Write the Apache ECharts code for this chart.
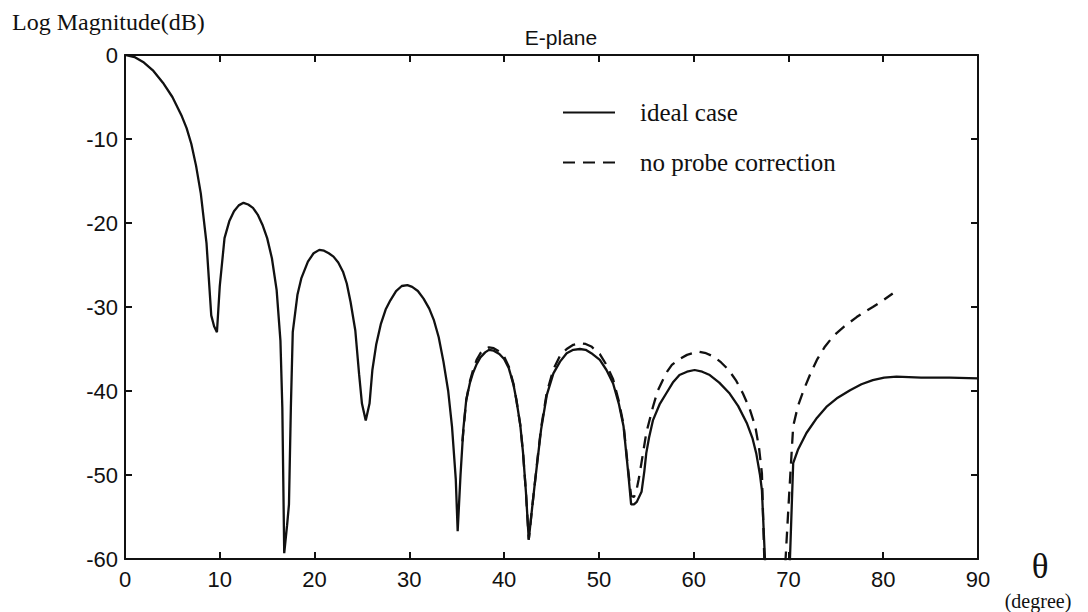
<!DOCTYPE html>
<html>
<head>
<meta charset="utf-8">
<script src="https://cdn.jsdelivr.net/npm/echarts@6/dist/echarts.min.js"></script>
<style>
html,body{margin:0;padding:0;background:#fff;}
#chart{width:1088px;height:612px;}
</style>
</head>
<body>
<div id="chart"></div>
<script>
// theta (degree) / log magnitude (dB)
var thetaIdeal = [0,1,2,3,4,5,6,6.5,7,7.5,8,8.6,9.1,9.4,9.7,10.0,10.5,11,11.5,12,12.5,13,13.5,14,14.5,15,15.5,16,16.4,16.6,16.8,17.1,17.3,17.5,17.7,18.2,18.6,19.3,19.9,20.5,21,21.5,22,22.5,23,23.4,23.8,24.3,24.7,25,25.4,25.8,26.1,26.5,27,27.5,28,28.6,29.2,29.8,30.3,30.9,31.5,32.1,32.6,33.1,33.6,34.1,34.5,34.9,35.1,35.4,35.7,36,36.4,36.7,37.1,37.5,38,38.4,38.9,39.5,40,40.5,41,41.3,41.7,42,42.3,42.6,42.9,43.2,43.6,43.9,44.5,45.2,45.9,46.6,47.3,48,48.6,49.2,50.1,50.8,51.5,52.1,52.6,53.1,53.4,53.7,54,54.5,54.8,55,55.3,55.7,56.4,57.1,57.8,58.5,59.3,60.1,60.9,61.7,62.7,63.8,64.7,65.6,66.2,66.6,67,67.2,67.6,70.1,70.5,71,71.9,73,74,75.2,76.5,77.7,78.9,80.1,81.4,84,87,90];
var magIdeal = [0,-0.25,-0.9,-1.9,-3.3,-5.0,-7.3,-8.7,-10.6,-13.2,-16.5,-22.4,-31.0,-32.3,-33.0,-27.5,-21.8,-19.8,-18.6,-17.9,-17.6,-17.8,-18.2,-19.0,-20.2,-21.8,-24.2,-28.0,-34.0,-42.0,-59.3,-56.0,-53.5,-42.0,-33.0,-28.5,-26.6,-24.6,-23.6,-23.2,-23.3,-23.6,-24.0,-24.7,-25.8,-27.2,-29.4,-32.8,-38.0,-41.5,-43.5,-41.5,-37.5,-34.5,-32.0,-30.3,-29.2,-28.1,-27.5,-27.4,-27.6,-28.1,-29.0,-30.2,-31.6,-33.6,-36.5,-40.0,-44.2,-50.5,-56.7,-50.0,-44.5,-41.1,-39.0,-37.9,-36.8,-36.0,-35.4,-35.1,-35.2,-35.6,-36.2,-37.3,-39.3,-41.1,-44.0,-47.4,-52.0,-57.7,-54.5,-51.4,-47.5,-44.6,-40.5,-37.9,-36.5,-35.5,-35.1,-35.0,-35.1,-35.5,-36.3,-37.5,-39.1,-41.5,-44.2,-49.8,-53.5,-53.5,-53.2,-52.0,-49.5,-47.4,-45.5,-43.5,-41.6,-40.3,-39.0,-38.1,-37.7,-37.5,-37.7,-38.1,-39.0,-40.3,-41.8,-43.8,-45.6,-47.4,-50.0,-51.8,-62,-62,-48.6,-47.0,-45.0,-43.2,-41.9,-40.8,-39.9,-39.2,-38.7,-38.4,-38.3,-38.4,-38.4,-38.5];

// the dashed curve lies on the solid one below ~36 degree
var thetaNoProbe = [35.6,36,36.4,36.7,37.1,37.5,38,38.4,38.9,39.5,40,40.5,41,41.3,41.7,42,42.3,42.6,42.9,43.2,43.6,43.9,44.5,45.2,45.9,46.6,47.3,48,48.6,49.2,50.1,50.8,51.5,52.1,52.6,53.1,53.4,53.7,53.9,54.2,54.5,55,55.7,56.2,56.7,57.2,57.7,58.5,59.3,60.5,61.3,62.1,62.9,63.7,64.5,65.2,65.9,66.5,66.9,67.2,67.5,69.6,70,70.3,70.5,71,71.6,72.3,73,73.8,74.7,75.9,77.2,78,78.9,80,81];
var magNoProbe = [-46.0,-41.1,-38.8,-37.6,-36.3,-35.5,-35.0,-34.8,-34.9,-35.3,-35.9,-37.1,-39.2,-41.1,-44.0,-47.4,-52.0,-57.7,-54.5,-51.4,-47.3,-44.4,-40.2,-37.4,-35.8,-35.0,-34.5,-34.3,-34.4,-34.7,-35.6,-36.9,-38.6,-41.2,-44.0,-49.5,-52.5,-52.6,-52.2,-50.5,-48.5,-45.0,-41.9,-40.0,-38.8,-37.7,-36.9,-36.2,-35.7,-35.3,-35.5,-35.9,-36.6,-37.5,-38.8,-40.3,-42.1,-44.2,-46.8,-49.8,-62,-62,-53.8,-48.0,-44.2,-41.8,-39.9,-38.0,-36.3,-34.8,-33.5,-32.3,-31.2,-30.6,-30.0,-29.2,-28.4];

var xTicks = [0, 90, 10];   // min, max, step
var yTicks = [-60, 0, 10];

function pairs(xs, ys){
	var out = [];
	for(var i=0;i<xs.length;i++){
		out.push([xs[i], ys[i]]);
	}
	return out;
}

var ink = '#111';
var sans = '"Liberation Sans", Arial, sans-serif';
var serif = '"Liberation Serif", "Times New Roman", serif';

var myChart = echarts.init(document.getElementById('chart'), null, {renderer:'svg'});

//框线坐标轴
function frameAxis(pos, showLabel, isX){
	return {
		type:'value',
		position:pos,
		min: isX ? xTicks[0] : yTicks[0],
		max: isX ? xTicks[1] : yTicks[1],
		interval: isX ? xTicks[2] : yTicks[2],
		axisLine:{show:true, onZero:false, lineStyle:{color:ink, width:2}},
		axisTick:{show:true, inside:true, length:7, lineStyle:{color:ink, width:2}},
		splitLine:{show:false},
		axisLabel:{show:showLabel, color:ink, fontFamily:sans, fontSize:22, margin: isX ? 9 : 7}
	};
}

var option = {
	backgroundColor:'#fff',
	animation:false,
	grid:{left:125, right:110, top:55, bottom:53, containLabel:false},
	xAxis:[frameAxis('bottom', true, true), frameAxis('top', false, true)],
	yAxis:[frameAxis('left', true, false), frameAxis('right', false, false)],
	legend:{
		orient:'vertical',
		left:562,
		top:100,
		padding:0,
		itemWidth:52,
		itemHeight:25,
		itemGap:25,
		itemStyle:{opacity:0},
		textStyle:{color:ink, fontFamily:serif, fontSize:25, padding:[0,0,0,20]},
		data:['ideal case','no probe correction']
	},
	graphic:[
		{type:'text', left:12, top:10, style:{text:'Log Magnitude(dB)', fill:ink, font:'24px ' + serif}},
		{type:'text', x:561, y:37, style:{text:'E-plane', fill:ink, font:'21px ' + sans, textAlign:'center', textVerticalAlign:'middle'}},
		{type:'text', x:1040, y:566, style:{text:'θ', fill:ink, font:'35px ' + serif, textAlign:'center', textVerticalAlign:'middle'}},
		{type:'text', x:1038, y:601, style:{text:'(degree)', fill:ink, font:'20px ' + serif, textAlign:'center', textVerticalAlign:'middle'}}
	],
	series:[
		{
			name:'ideal case',
			type:'line',
			symbol:'none',
			clip:true,
			lineStyle:{color:ink, width:2.3},
			itemStyle:{color:ink},
			data:pairs(thetaIdeal, magIdeal),
			z:3
		},
		{
			name:'no probe correction',
			type:'line',
			symbol:'none',
			clip:true,
			lineStyle:{color:ink, width:2.3, type:[12,8]},
			itemStyle:{color:ink},
			data:pairs(thetaNoProbe, magNoProbe),
			z:2
		}
	]
};
myChart.setOption(option, true);
</script>
</body>
</html>
